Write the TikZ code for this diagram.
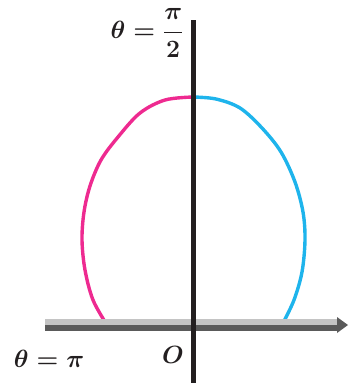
\documentclass[tikz,border=0pt]{standalone}
\usepackage{amsmath}
\begin{document}
\begin{tikzpicture}[x=1pt,y=-1pt,
  pinkcurve/.style={draw=curvepink,line width=3.4pt,line cap=round},
  bluecurve/.style={draw=curveblue,line width=3.4pt,line cap=round},
  lbl/.style={inner sep=0pt,text=axisblack,font=\fontsize{33}{38}\selectfont\boldmath}]
\definecolor{curvepink}{HTML}{EE2A90}
\definecolor{curveblue}{HTML}{1EB4EC}
\definecolor{axisblack}{HTML}{231F20}
\definecolor{axislight}{HTML}{C4C4C4}
\definecolor{axisdark}{HTML}{5A5A5A}
\useasboundingbox (0,0) rectangle (351,383);
% coordinates
\coordinate (hl) at (45,325);
\coordinate (hr) at (338,325);
\coordinate (vt) at (193.5,20);
\coordinate (vb) at (193.5,383);
% curve
\draw[pinkcurve] plot[smooth,tension=0.55] coordinates {(107,325) (93,300) (85,270) (82,240) (84,212) (90,186) (101,160) (118,137) (140,113) (165,100) (193,97)};
\draw[bluecurve] plot[smooth,tension=0.55] coordinates {(193,97) (216,99) (240,108) (262,128) (281,152) (295,182) (303,212) (305,240) (302,272) (294,300) (283,323)};
% horizontal axis (two tone)
\fill[axislight] (45,319) rectangle (338,325);
\fill[axisdark] (45,325) rectangle (338,331);
\fill[axisdark] (337,317) -- (348,325) -- (337,333) -- cycle;
% vertical axis
\draw[axisblack,line width=5pt] (vt) -- (vb);
% labels
\node[lbl] (top) at (147,33) {$\theta=\dfrac{\pi}{2}$};
\node[lbl] (left) at (49,359) {$\theta=\pi$};
\node[lbl] (orig) at (173,355) {$O$};
\end{tikzpicture}
\end{document}
